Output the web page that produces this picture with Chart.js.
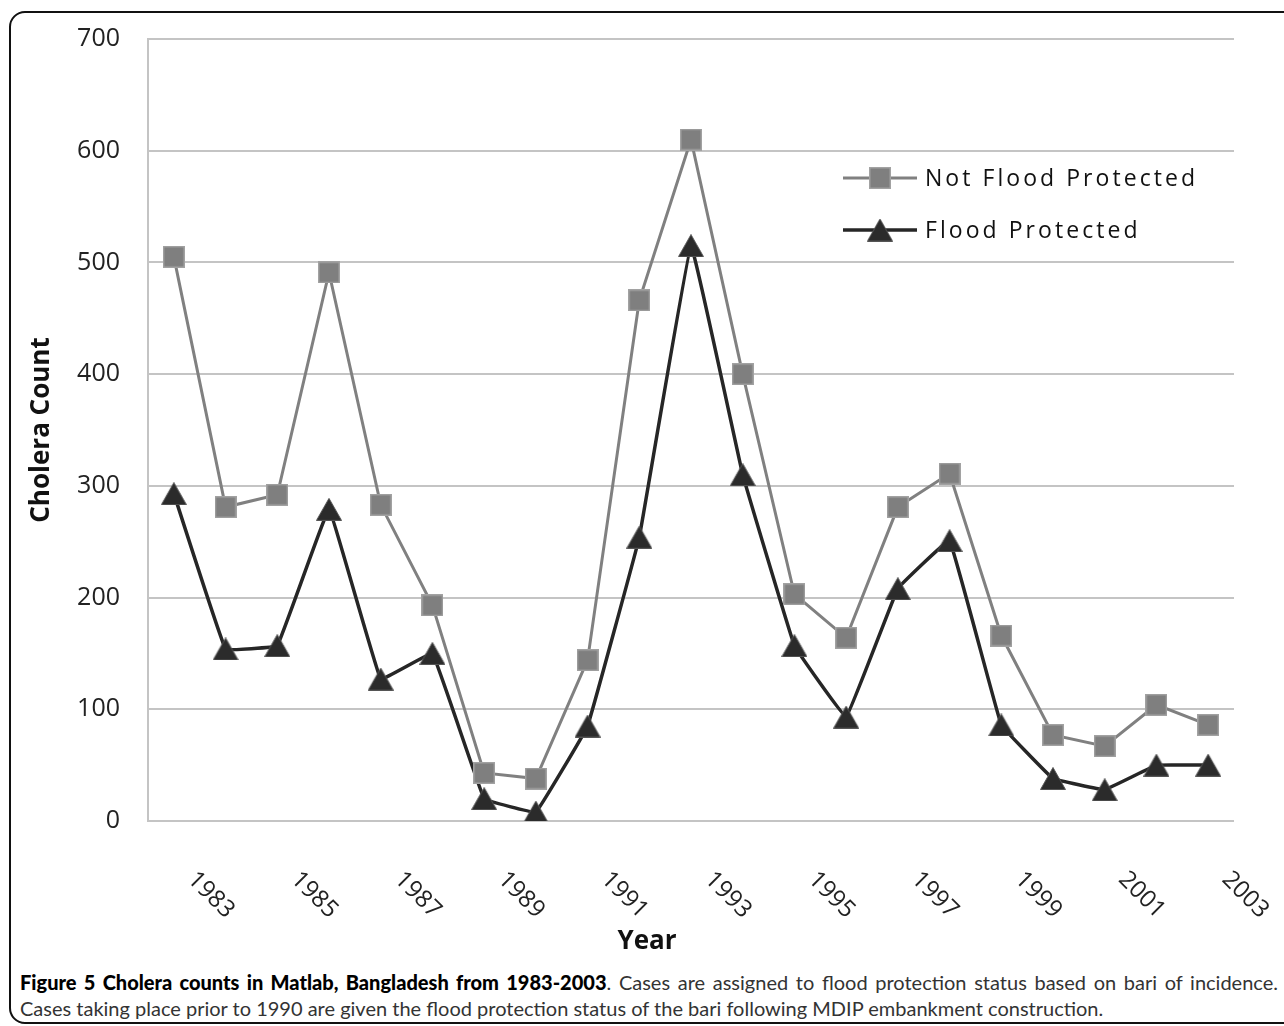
<!DOCTYPE html>
<html><head><meta charset="utf-8">
<script src="https://cdn.jsdelivr.net/npm/chart.js@4.4.1/dist/chart.umd.min.js"></script>
<style>
html,body{margin:0;padding:0;background:#fff;width:1284px;height:1026px;overflow:hidden;}
#frame{position:absolute;left:9px;top:11px;width:1310px;height:1013px;border:2px solid #111;border-radius:16px;box-sizing:border-box;}
#wrap{position:absolute;left:0;top:0;width:1284px;height:960px;}
#caption{position:absolute;left:20px;top:969px;width:1258px;font-family:Lato,"Open Sans",sans-serif;font-size:20px;color:#333;line-height:26px;}
#caption .l1{text-align:justify;text-align-last:justify;white-space:nowrap;}
#caption b{color:#000;font-weight:900;}
</style></head>
<body>
<div id="frame"></div>
<div id="wrap"><canvas id="c" width="1284" height="960"></canvas></div>
<div id="caption"><div class="l1"><b>Figure 5 Cholera counts in Matlab, Bangladesh from 1983-2003</b>. Cases are assigned to flood protection status based on bari of incidence.</div><div>Cases taking place prior to 1990 are given the flood protection status of the bari following MDIP embankment construction.</div></div>
<script>
const years = ['1983','1984','1985','1986','1987','1988','1989','1990','1991','1992','1993','1994','1995','1996','1997','1998','1999','2000','2001','2002','2003'];
const xTickLabels = ['1983','1985','1987','1989','1991','1993','1995','1997','1999','2001','2003'];
const notFloodProtected = [505,281,292,491,283,193,43,38,144,466,610,400,203,164,281,311,166,77,67,104,86];
const floodProtected = [293,154,157,279,127,150,20,8,85,254,515,310,157,93,208,251,86,38,28,50,50];
const yTickValues = [0,100,200,300,400,500,600,700];
const seriesNames = ['Not Flood Protected','Flood Protected'];
const xTitle = 'Year';
const yTitle = 'Cholera Count';

function squareMarker(){
  const c = document.createElement('canvas'); c.width = 22; c.height = 22;
  const g = c.getContext('2d');
  g.fillStyle = '#a2a2a2'; g.fillRect(0,0,22,22);
  g.fillStyle = '#7f7f7f'; g.fillRect(1.5,1.5,19,19);
  return c;
}
function triMarker(){
  const c = document.createElement('canvas'); c.width = 26; c.height = 23;
  const g = c.getContext('2d');
  g.beginPath(); g.moveTo(13,0.5); g.lineTo(25.5,22.5); g.lineTo(0.5,22.5); g.closePath();
  g.fillStyle = '#2b2b2b'; g.fill();
  g.strokeStyle = '#555'; g.lineWidth = 1; g.stroke();
  return c;
}
const sq = squareMarker();
const tri = triMarker();

const customText = {
  id: 'customText',
  afterDraw(chart){
    const {ctx, chartArea:ca, scales:{x}} = chart;
    ctx.save();
    ctx.font = '24px "Open Sans"';
    ctx.fillStyle = '#222';
    ctx.textAlign = 'center'; ctx.textBaseline = 'middle';
    xTickLabels.forEach(lbl => {
      const i = years.indexOf(lbl);
      const px = x.getPixelForValue(i);
      ctx.save();
      ctx.translate(px + 37, x.top + 74);
      ctx.rotate(Math.PI/4);
      ctx.fillText(lbl, 0, 0);
      ctx.restore();
    });
    ctx.font = 'bold 26px "Open Sans"';
    ctx.fillStyle = '#111';
    ctx.fillText(xTitle, (ca.left + ca.right)/2 - 44, x.top + 121);
    const rows = [
      {ds: chart.data.datasets[0], y: ca.top + 139},
      {ds: chart.data.datasets[1], y: ca.top + 191}
    ];
    const x0 = ca.right - 391, x1 = ca.right - 317, tx = ca.right - 309;
    ctx.font = '23px "Open Sans"';
    const w0 = ctx.measureText(rows[0].ds.label).width;
    const n0 = rows[0].ds.label.length;
    const sp = Math.max(0, (270 - w0) / (n0 - 1));
    rows.forEach(r => {
      ctx.strokeStyle = r.ds.borderColor; ctx.lineWidth = r.ds.borderWidth;
      ctx.beginPath(); ctx.moveTo(x0, r.y); ctx.lineTo(x1, r.y); ctx.stroke();
      const im = r.ds.pointStyle;
      ctx.drawImage(im, (x0+x1)/2 - im.width/2, r.y - im.height/2);
      ctx.fillStyle = '#111'; ctx.textAlign = 'left'; ctx.textBaseline = 'middle';
      try { ctx.letterSpacing = sp.toFixed(2) + 'px'; } catch(e) {}
      ctx.fillText(r.ds.label, tx, r.y + 1);
      try { ctx.letterSpacing = '0px'; } catch(e) {}
    });
    ctx.restore();
  }
};

new Chart(document.getElementById('c'), {
  type: 'line',
  data: {
    labels: years,
    datasets: [
      {label: seriesNames[0], data: notFloodProtected, borderColor: '#808080', backgroundColor: '#7f7f7f', borderWidth: 3, pointStyle: sq, pointRadius: 11, tension: 0},
      {label: seriesNames[1], data: floodProtected, borderColor: '#262626', backgroundColor: '#2b2b2b', borderWidth: 3.5, pointStyle: tri, pointRadius: 12, tension: 0.05}
    ]
  },
  options: {
    responsive: false,
    animation: false,
    layout: {padding: {top: 39, right: 50, left: 0, bottom: 0}},
    plugins: {legend: {display: false}, tooltip: {enabled: false}},
    scales: {
      x: {
        type: 'category',
        offset: true,
        grid: {display: false},
        border: {display: false},
        ticks: {display: false},
        afterFit(s){ s.height = 139; }
      },
      y: {
        min: 0, max: 700,
        afterBuildTicks(s){ s.ticks = yTickValues.map(v => ({value: v})); },
        grid: {color: '#c4c4c4', lineWidth: 2, drawTicks: false},
        border: {display: true, color: '#c4c4c4', width: 2},
        ticks: {padding: 28, color: '#222', font: {family: '"Open Sans"', size: 25}},
        title: {display: true, text: yTitle, color: '#111', font: {family: '"Open Sans"', size: 26, weight: 'bold'}, padding: {top: 26, bottom: 0}},
        afterFit(s){ s.width = 148; s.paddingTop = 0; s.paddingBottom = 0; }
      }
    }
  },
  plugins: [customText]
});
</script>
</body></html>
